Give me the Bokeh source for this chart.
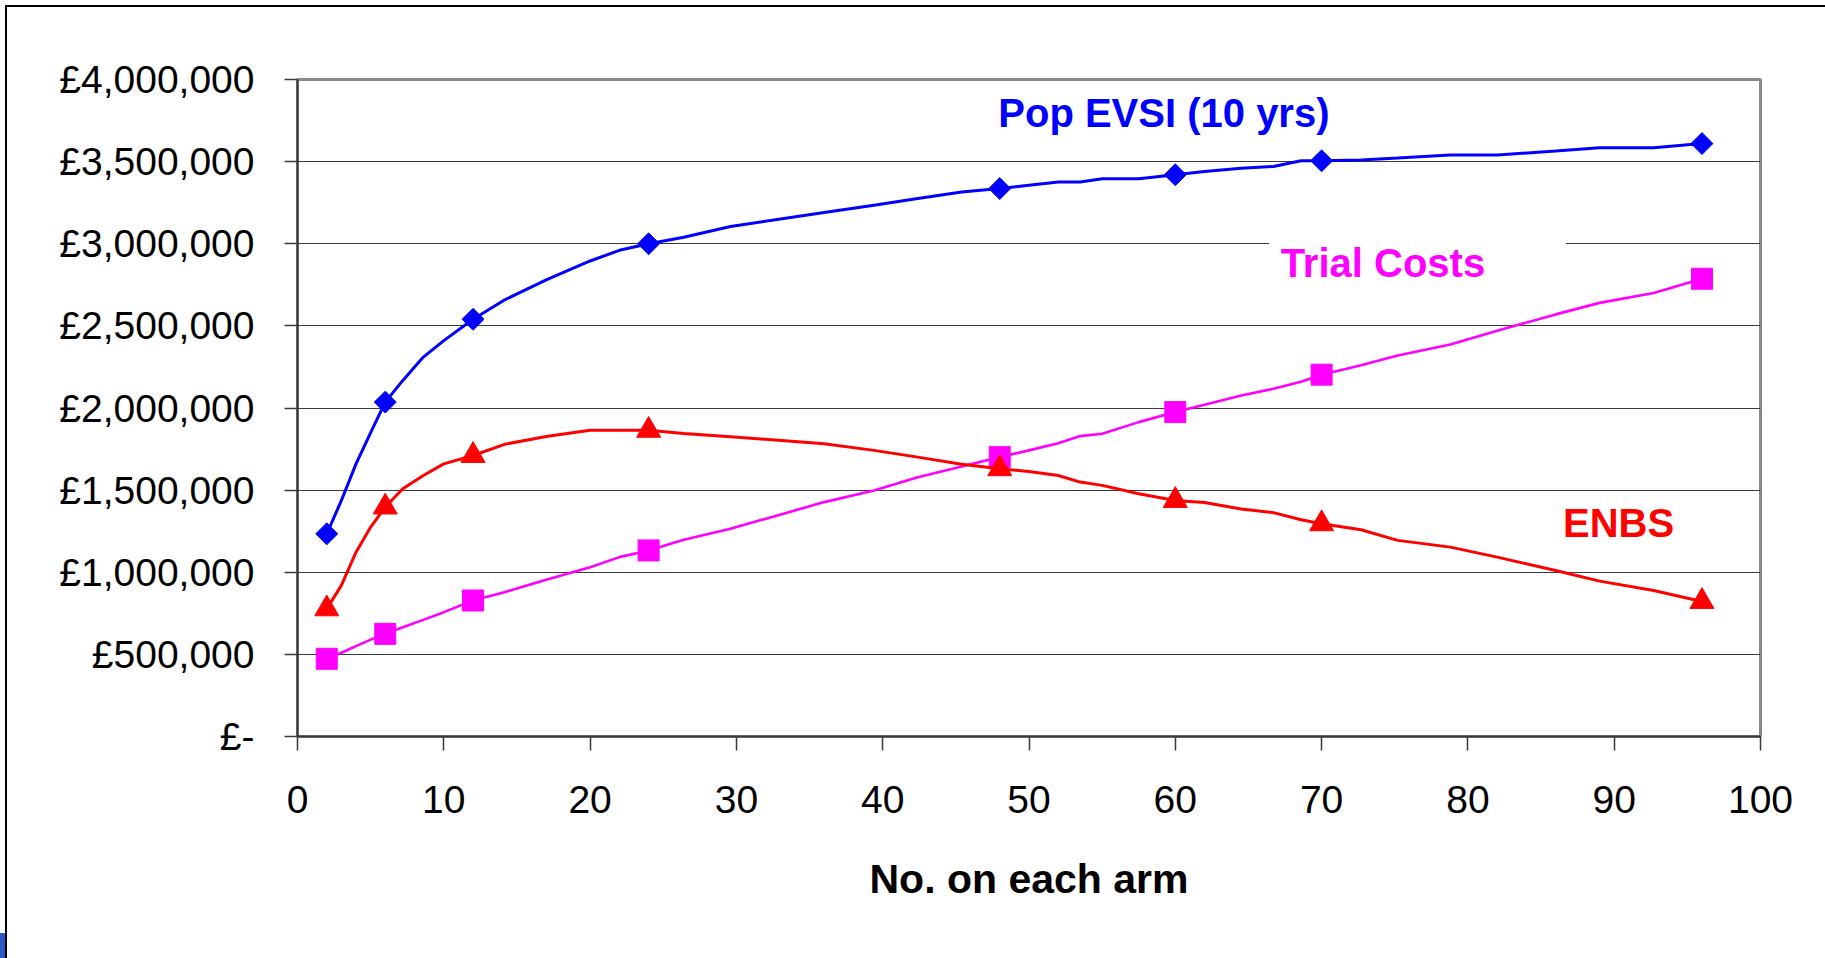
import numpy as np
from bokeh.plotting import figure
from bokeh.models import FixedTicker, Label, BoxAnnotation
from bokeh.embed import file_html
from bokeh.resources import INLINE

# ---------------- data ----------------
n_line = [2, 3, 4, 5, 6, 7.2, 8.6, 10, 12, 14.2, 17, 20, 22, 24, 26.4, 29.6,
          36, 39.4, 42.4, 45.4, 48, 50, 52, 53.5, 55, 57.5, 60, 62, 64.5,
          66.7, 68.6, 70, 72.7, 75.2, 78.8, 82, 86, 89, 92.7, 96]

evsi_line = [1234000, 1437000, 1660000, 1850000, 2036000, 2168000, 2310000,
             2410000, 2540000, 2660000, 2780000, 2895000, 2960000, 3000000,
             3040000, 3105000, 3190000, 3235000, 3275000, 3315000, 3336000,
             3356000, 3376000, 3376000, 3396000, 3396000, 3420000, 3440000,
             3460000, 3470000, 3505000, 3505000, 3510000, 3522000, 3540000,
             3540000, 3565000, 3585000, 3585000, 3610000]

costs_line = [473000, 510000, 550000, 590000, 625000, 665000, 710000, 757000,
              828000, 880000, 955000, 1031000, 1092000, 1133000, 1198000,
              1265000, 1427000, 1498000, 1579000, 1644000, 1701000, 1742000,
              1786000, 1829000, 1843000, 1914000, 1975000, 2020000, 2076000,
              2117000, 2160000, 2203000, 2260000, 2320000, 2387000, 2470000,
              2570000, 2640000, 2700000, 2787000]

enbs_line = [777000, 920000, 1122000, 1275000, 1397000, 1508000, 1589000,
             1660000, 1711000, 1780000, 1827000, 1864000, 1864000, 1864000,
             1845000, 1825000, 1783000, 1742000, 1701000, 1657000, 1630000,
             1614000, 1589000, 1549000, 1529000, 1478000, 1437000, 1425000,
             1385000, 1363000, 1320000, 1295000, 1259000, 1194000, 1153000,
             1092000, 1011000, 946000, 889000, 822000]

n_marker = [2, 6, 12, 24, 48, 60, 70, 96]
evsi_marker = [1234000, 2036000, 2540000, 3000000, 3336000, 3420000, 3505000, 3610000]
costs_marker = [473000, 625000, 828000, 1133000, 1701000, 1975000, 2203000, 2787000]
enbs_marker = [777000, 1397000, 1711000, 1864000, 1630000, 1437000, 1295000, 822000]

y_ticks = [0, 500000, 1000000, 1500000, 2000000, 2500000, 3000000, 3500000, 4000000]
y_tick_labels = ["£-", "£500,000", "£1,000,000", "£1,500,000", "£2,000,000",
                 "£2,500,000", "£3,000,000", "£3,500,000", "£4,000,000"]
x_ticks = [0, 10, 20, 30, 40, 50, 60, 70, 80, 90, 100]

series_labels = ["Pop EVSI (10 yrs)", "Trial Costs", "ENBS"]
x_title = "No. on each arm"

# ---------------- styling ----------------
BLUE = "#0000FF"
MAGENTA = "#FF00FF"
RED = "#FF0000"
FONT = "Liberation Sans"

p = figure(width=1825, height=958, x_range=(0, 100), y_range=(0, 4000000),
           output_backend="svg", toolbar_location=None,
           min_border_left=297, min_border_right=65,
           min_border_top=79, min_border_bottom=222)

p.background_fill_color = "white"
p.border_fill_color = None  # let the host background (frame lines) show through
p.styles = {
    "background": (
        "linear-gradient(#000,#000) 5px 5px / 2px 100% no-repeat, "
        "linear-gradient(#000,#000) 5px 5px / 100% 2px no-repeat, "
        "linear-gradient(#2a56c6,#2a56c6) 0px 933px / 5px 25px no-repeat, "
        "#ffffff"
    )
}
p.outline_line_color = "#8a8a8a"
p.outline_line_width = 3

p.xgrid.visible = False
p.ygrid.ticker = FixedTicker(ticks=y_ticks)
p.ygrid.grid_line_color = "#3a3a3a"
p.ygrid.grid_line_width = 1.2

# y axis
p.yaxis.ticker = FixedTicker(ticks=y_ticks)
p.yaxis.major_label_overrides = {t: s for t, s in zip(y_ticks, y_tick_labels)}
p.yaxis.minor_tick_line_color = None
p.yaxis.major_tick_in = 0
p.yaxis.major_tick_out = 13
p.yaxis.major_label_standoff = 30
p.yaxis.major_label_text_font = FONT
p.yaxis.major_label_text_font_size = "39px"
p.yaxis.major_label_text_color = "black"
p.yaxis.axis_line_color = "#3a3a3a"
p.yaxis.axis_line_width = 2
p.yaxis.major_tick_line_color = "#3a3a3a"
p.yaxis.major_tick_line_width = 1.5

# x axis
p.xaxis.ticker = FixedTicker(ticks=x_ticks)
p.xaxis.minor_tick_line_color = None
p.xaxis.major_tick_in = 0
p.xaxis.major_tick_out = 14
p.xaxis.major_label_standoff = 35
p.xaxis.major_label_text_font = FONT
p.xaxis.major_label_text_font_size = "39px"
p.xaxis.major_label_text_color = "black"
p.xaxis.axis_line_color = "#3a3a3a"
p.xaxis.axis_line_width = 2
p.xaxis.major_tick_line_color = "#3a3a3a"
p.xaxis.major_tick_line_width = 1.5
p.xaxis.axis_label = x_title
p.xaxis.axis_label_text_font = FONT
p.xaxis.axis_label_text_font_size = "41px"
p.xaxis.axis_label_text_font_style = "bold"
p.xaxis.axis_label_text_color = "black"
p.xaxis.axis_label_standoff = 40

# white box behind "Trial Costs" (hides the gridline there)
p.add_layout(BoxAnnotation(left=66.4, right=86.7, bottom=2900000, top=3080000,
                           fill_color="white", fill_alpha=1.0, line_alpha=0,
                           level="underlay"))

# series
p.line(n_line, evsi_line, line_color=BLUE, line_width=3)
p.scatter(n_marker, evsi_marker, marker="square", angle=np.pi / 4, size=15.5,
          fill_color=BLUE, line_color=BLUE)

p.line(n_line, costs_line, line_color=MAGENTA, line_width=2.6)
p.scatter(n_marker, costs_marker, marker="square", size=21,
          fill_color=MAGENTA, line_color=MAGENTA)

p.line(n_line, enbs_line, line_color=RED, line_width=3)
p.scatter(n_marker, enbs_marker, marker="triangle", size=24,
          fill_color=RED, line_color=RED)

# series labels
label_specs = [
    (series_labels[0], 47.9, 3794000, BLUE),
    (series_labels[1], 67.2, 2880000, MAGENTA),
    (series_labels[2], 86.5, 1299000, RED),
]
for txt, lx, ly, col in label_specs:
    p.add_layout(Label(x=lx, y=ly, text=txt, text_color=col,
                       text_font=FONT, text_font_size="40px",
                       text_font_style="bold", text_baseline="alphabetic"))

open("out.html", "w").write(file_html(p, INLINE))
